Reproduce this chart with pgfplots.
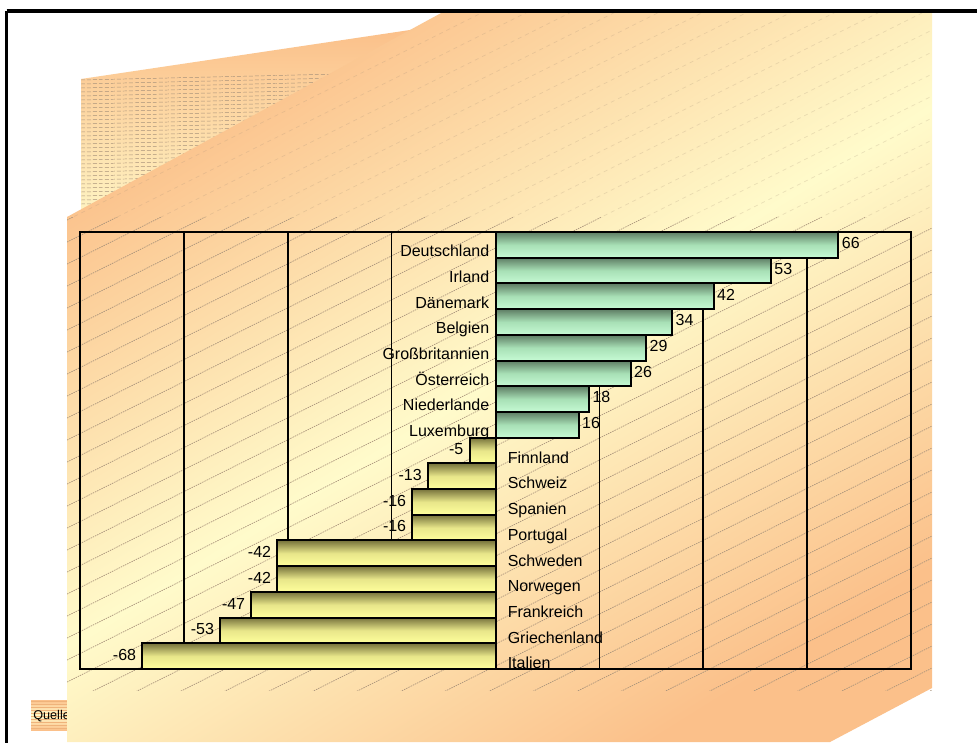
\documentclass[border=0pt]{standalone}
\usepackage{pgfplots}
\pgfplotsset{compat=1.18}
\usepackage{fontspec}
\setmainfont{Liberation Sans}
\definecolor{peach}{HTML}{FBC08A}
\definecolor{pale}{HTML}{FFFBCB}
\definecolor{ydark}{HTML}{77733C}
\definecolor{ymid}{HTML}{E8E68A}
\definecolor{ylight}{HTML}{FFFF9C}
\definecolor{gdark}{HTML}{5E7D64}
\definecolor{gmid}{HTML}{A8E0B6}
\definecolor{glight}{HTML}{C6FAD4}
\definecolor{hatch}{HTML}{A8927A}
\pgfplotsset{
  posbar/.style={xbar, bar shift=0pt, bar width=1, draw=black, line width=1.5pt,
    top color=gdark, bottom color=glight, middle color=gmid},
  negbar/.style={xbar, bar shift=0pt, bar width=1, draw=black, line width=1.5pt,
    top color=ydark, bottom color=ylight, middle color=ymid},
}
\begin{document}
\begin{tikzpicture}
\useasboundingbox (0,0) rectangle (732.75pt,-556.5pt);
\clip (0,0) rectangle (732.75pt,-556.5pt);
\begin{scope}[x=0.75pt,y=-0.75pt]
\fill[white] (0,0) rectangle (977,742);
% source box (mostly hidden)
\shade[top color=peach, bottom color=peach, middle color=pale] (31,700) rectangle (90,730);
\begin{scope}
\clip (31,700) rectangle (90,730);
\foreach \yy in {701,704,...,730} \draw[peach!80!brown, line width=0.4pt] (31,\yy) -- (90,\yy);
\end{scope}
\node[anchor=west, inner sep=0pt, font=\fontsize{9.5}{11}\selectfont] at (33,716) {Quelle};
% back panel
\shade[top color=peach, bottom color=pale] (81,79) -- (410,30) -- (600,30) -- (600,240) -- (81,240) -- cycle;
\begin{scope}
\clip (81,79) -- (410,30) -- (600,30) -- (600,240) -- (81,240) -- cycle;
\foreach \yy in {80,84,...,204} \draw[hatch, line width=0.35pt, dash pattern=on 3pt off 1.5pt] (81,\yy) -- (600,\yy-12);
\end{scope}
% front panel
\shade[top color=peach, bottom color=peach, middle color=pale, shading angle=32]
  (67,217) -- (443,12) -- (932,12) -- (932,688) -- (830,742) -- (67,742) -- cycle;
% hatch
\begin{scope}
\clip (67,217) rectangle (932,690);
\foreach \c in {220,242,...,1130} \draw[hatch, line width=0.5pt, dash pattern=on 1.1pt off 0.7pt] (67,\c) -- (932,\c-432);
\end{scope}
\begin{scope}
\clip (67,217) -- (443,12) -- (932,12) -- (932,217) -- cycle;
\foreach \c in {220,242,...,650} \draw[hatch, opacity=0.25, line width=0.5pt, dash pattern=on 3pt off 3pt] (67,\c) -- (932,\c-432);
\end{scope}
\end{scope}
\begin{axis}[
  at={(60pt,-501.75pt)}, anchor=south west,
  scale only axis, width=623.25pt, height=327.75pt,
  xmin=-80, xmax=80, ymin=0.5, ymax=17.5, y dir=reverse,
  xtick={-60,-40,-20,20,40,60}, xticklabels={},
  ytick=\empty, major tick length=0pt,
  xmajorgrids, grid style={black, line width=1.3pt},
  axis line style={black, line width=1.5pt},
  clip=false,
  every node near coord/.append style={font=\fontsize{12}{14}\selectfont, inner sep=0pt, text=black},
]
\addplot[posbar] coordinates {(66,1)};
\addplot[posbar] coordinates {(53,2)};
\addplot[posbar] coordinates {(42,3)};
\addplot[posbar] coordinates {(34,4)};
\addplot[posbar] coordinates {(29,5)};
\addplot[posbar] coordinates {(26,6)};
\addplot[posbar] coordinates {(18,7)};
\addplot[posbar] coordinates {(16,8)};
\addplot[negbar] coordinates {(-5,9)};
\addplot[negbar] coordinates {(-13,10)};
\addplot[negbar] coordinates {(-16,11)};
\addplot[negbar] coordinates {(-16,12)};
\addplot[negbar] coordinates {(-42,13)};
\addplot[negbar] coordinates {(-42,14)};
\addplot[negbar] coordinates {(-47,15)};
\addplot[negbar] coordinates {(-53,16)};
\addplot[negbar] coordinates {(-68,17)};
% value labels
\addplot[draw=none, mark=none, point meta=explicit symbolic, nodes near coords,
  every node near coord/.append style={anchor=base west, xshift=2.5pt, yshift=-2.8pt}]
  coordinates {(66,1)[66] (53,2)[53] (42,3)[42] (34,4)[34] (29,5)[29] (26,6)[26] (18,7)[18] (16,8)[16]};
\addplot[draw=none, mark=none, point meta=explicit symbolic, nodes near coords,
  every node near coord/.append style={anchor=base east, xshift=-4.5pt, yshift=-3.2pt}]
  coordinates {(-5,9)[-5] (-13,10)[-13] (-16,11)[-16] (-16,12)[-16] (-42,13)[-42] (-42,14)[-42] (-47,15)[-47] (-53,16)[-53] (-68,17)[-68]};
% country labels
\addplot[draw=none, mark=none, point meta=explicit symbolic, nodes near coords,
  every node near coord/.append style={anchor=base east, xshift=-4.5pt, yshift=-8.8pt}]
  coordinates {(0,1)[Deutschland] (0,2)[Irland] (0,3)[Dänemark] (0,4)[Belgien] (0,5)[Großbritannien] (0,6)[Österreich] (0,7)[Niederlande] (0,8)[Luxemburg]};
\addplot[draw=none, mark=none, point meta=explicit symbolic, nodes near coords,
  every node near coord/.append style={anchor=base west, xshift=9pt, yshift=-9.5pt}]
  coordinates {(0,9)[Finnland] (0,10)[Schweiz] (0,11)[Spanien] (0,12)[Portugal] (0,13)[Schweden] (0,14)[Norwegen] (0,15)[Frankreich] (0,16)[Griechenland] (0,17)[Italien]};
\end{axis}
% outer frame
\begin{scope}[x=0.75pt,y=-0.75pt]
\draw[black, line width=2.3pt] (6.5,11) -- (990,11);
\draw[black, line width=2.3pt] (6.5,11) -- (6.5,760);
\end{scope}
\end{tikzpicture}
\end{document}
